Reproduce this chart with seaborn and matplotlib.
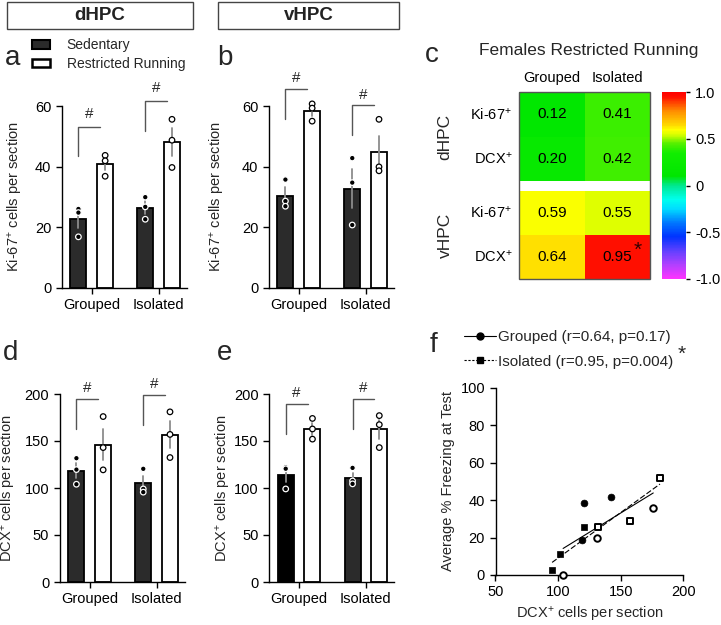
import numpy as np
import pandas as pd
import matplotlib.pyplot as plt
import seaborn as sns
from matplotlib.colors import LinearSegmentedColormap
from matplotlib.lines import Line2D
from matplotlib.patches import Patch, Rectangle

# ---- data ----
housing = ['Grouped', 'Isolated']
conditions = ['Sedentary', 'Restricted Running']

# per animal, order: Grouped-Sed, Grouped-RR, Isolated-Sed, Isolated-RR
ki67_dhpc = [[26.0, 24.8, 16.8], [43.7, 41.9, 36.8], [29.9, 26.7, 22.6], [55.6, 48.7, 39.7]]
ki67_vhpc = [[35.7, 28.6, 26.9], [60.7, 59.3, 55.0], [42.8, 34.7, 20.7], [55.6, 39.9, 38.6]]
dcx_dhpc = [[131.7, 119.6, 104.0], [176.0, 143.0, 119.3], [120.4, 99.0, 95.6], [181.0, 157.0, 132.4]]
dcx_vhpc = [[122.0, 120.5, 99.0], [174.0, 162.8, 152.0], [121.4, 107.5, 104.4], [177.0, 167.4, 143.0]]

# brackets: (housing index, top of bracket, bottom of left arm, y of '#')
brackets_a = [(0, 53.1, 43.4, 57.3), (1, 61.5, 51.9, 65.8)]
brackets_b = [(0, 65.5, 55.6, 69.4), (1, 60.2, 50.3, 63.6)]
brackets_d = [(0, 194.4, 162.4, 206.7), (1, 199.3, 167.0, 210.6)]
brackets_e = [(0, 189.0, 157.0, 201.0), (1, 194.7, 162.8, 206.7)]

# correlation heatmap
marker_rows = ['Ki-67$^{+}$', 'DCX$^{+}$']
corr_dhpc = [[0.12, 0.41], [0.20, 0.42]]
corr_vhpc = [[0.59, 0.55], [0.64, 0.95]]

# DCX vs freezing
grp_sed_dcx = [120.5, 142.3, 119.4]
grp_sed_frz = [38.4, 41.8, 18.6]
grp_rr_dcx = [104.0, 131.1, 176.0]
grp_rr_frz = [0.0, 20.0, 35.9]
iso_sed_dcx = [95.2, 101.3, 120.5]
iso_sed_frz = [2.7, 11.0, 25.5]
iso_rr_dcx = [132.2, 157.2, 181.4]
iso_rr_frz = [25.5, 28.8, 52.0]

bar_colors = {'Sedentary': '#2b2b2b', 'Restricted Running': 'white'}
point_colors = {'Sedentary': 'black', 'Restricted Running': 'white'}

sns.set_style('ticks')
plt.rcParams['font.family'] = ['Liberation Sans', 'DejaVu Sans']
plt.rcParams['mathtext.default'] = 'regular'
plt.rcParams['axes.edgecolor'] = 'black'
plt.rcParams['xtick.color'] = 'black'
plt.rcParams['ytick.color'] = 'black'
plt.rcParams['axes.linewidth'] = 1.0

W, H = 721, 625
fig = plt.figure(figsize=(W / 100, H / 100), dpi=100)


def px_axes(left, top, right, bottom):
    return fig.add_axes([left / W, 1 - bottom / H, (right - left) / W, (bottom - top) / H])


def long_form(values):
    rows = []
    keys = [(h, c) for h in housing for c in conditions]
    for (h, c), vals in zip(keys, values):
        for v in vals:
            rows.append({'housing': h, 'condition': c, 'cells': v})
    return pd.DataFrame(rows)


def bar_panel(ax, values, ymax, yticks, ylabel, brackets, label_x, black_first=False):
    df = long_form(values)
    sns.barplot(data=df, x='housing', y='cells', hue='condition', order=housing,
                hue_order=conditions, palette=bar_colors, saturation=1, errorbar='se',
                width=0.8, gap=0.4, edgecolor='black', linewidth=1.3,
                err_kws={'color': '0.55', 'linewidth': 1.3}, legend=False, ax=ax)
    sns.stripplot(data=df, x='housing', y='cells', hue='condition', order=housing,
                  hue_order=conditions, palette=point_colors, dodge=True, jitter=False,
                  size=4, linewidth=0.9, legend=False, zorder=3, ax=ax)
    for coll in ax.collections:
        fcs = coll.get_facecolors()
        coll.set_edgecolors(['black' if fc[0] > 0.5 else 'white' for fc in fcs])
        coll.set_clip_on(False)

    bars = sorted(ax.patches, key=lambda p: p.get_x())
    if black_first:
        bars[0].set_facecolor('black')
    centers = [p.get_x() + p.get_width() / 2 for p in bars]
    for idx, top, low, yhash in brackets:
        x0 = centers[2 * idx]
        x1 = x0 + 0.82 * (centers[2 * idx + 1] - x0)
        ax.plot([x0, x0, x1], [low, top, top], color='#555555', lw=1, clip_on=False)
        ax.text((x0 + x1) / 2, yhash, '#', ha='center', va='center', fontsize=11)

    ax.set_xlim(-0.45, 1.42)
    ax.set_ylim(0, ymax)
    ax.set_yticks(yticks)
    ax.set_xlabel('')
    ax.set_ylabel(ylabel, fontsize=10.5)
    ax.yaxis.set_label_coords(label_x, 0.5)
    ax.tick_params(length=4, width=1, labelsize=10.5)
    sns.despine(ax=ax)


ax_a = px_axes(61.7, 106, 186.7, 287.7)
bar_panel(ax_a, ki67_dhpc, 60, [0, 20, 40, 60], 'Ki-67$^{+}$ cells per section', brackets_a, -0.29)
ax_b = px_axes(268.7, 106, 393.7, 287.7)
bar_panel(ax_b, ki67_vhpc, 60, [0, 20, 40, 60], 'Ki-67$^{+}$ cells per section', brackets_b, -0.33)
ax_d = px_axes(59.7, 394, 184.7, 582)
bar_panel(ax_d, dcx_dhpc, 200, [0, 50, 100, 150, 200], 'DCX$^{+}$ cells per section', brackets_d, -0.33)
ax_e = px_axes(269, 394, 394, 582)
bar_panel(ax_e, dcx_vhpc, 200, [0, 50, 100, 150, 200], 'DCX$^{+}$ cells per section', brackets_e, -0.29,
          black_first=True)

ax_a.legend(handles=[Patch(facecolor='#2b2b2b', edgecolor='black', lw=1.5),
                     Patch(facecolor='white', edgecolor='black', lw=1.8)],
            labels=conditions, loc='upper left', bbox_to_anchor=(32 / W, 1 - 38 / H),
            bbox_transform=fig.transFigure, frameon=False, fontsize=10, handlelength=1.3,
            handleheight=0.6, handletextpad=1.2, labelspacing=0.35, borderpad=0, borderaxespad=0)

# header boxes
for x0, x1, name in [(7, 193, 'dHPC'), (218, 399, 'vHPC')]:
    fig.patches.append(Rectangle((x0 / W, 1 - 29 / H), (x1 - x0) / W, 27 / H,
                                 transform=fig.transFigure, fill=False, edgecolor='#444444', lw=1))
    fig.text((x0 + x1) / 2 / W, 1 - 15.5 / H, name, ha='center', va='center',
             fontsize=13.5, fontweight='bold', color='#222222')

# ---- panel c: heatmap ----
rainbow = LinearSegmentedColormap.from_list('prism_rainbow', [
    (0.0, '#ff33ff'), (0.075, '#b040ff'), (0.15, '#6040ff'), (0.225, '#0033ff'),
    (0.30, '#0077ff'), (0.375, '#00ddff'), (0.425, '#00ffee'), (0.5, '#00e890'),
    (0.55, '#00e600'), (0.675, '#11ee00'), (0.725, '#55f000'), (0.775, '#ddff00'),
    (0.80, '#ffff00'), (0.825, '#ffd800'), (0.90, '#ff8c00'), (0.975, '#ff1000'),
    (1.0, '#ff0000')])

ax_c1 = px_axes(519, 92, 650, 181)
ax_c2 = px_axes(519, 191, 650, 279)
cax = px_axes(662, 92, 686, 279)

sns.heatmap(pd.DataFrame(corr_dhpc, index=marker_rows, columns=housing), ax=ax_c1, cmap=rainbow,
            vmin=-1, vmax=1, annot=True, fmt='.2f', cbar=False,
            annot_kws={'size': 11, 'color': 'black'})
ax_c1.xaxis.tick_top()
ax_c1.tick_params(length=0, labelsize=10.5, pad=5)
ax_c1.set_yticklabels(ax_c1.get_yticklabels(), rotation=0)
ax_c1.set_xlabel('')
ax_c1.set_ylabel('')

vhpc_df = pd.DataFrame(corr_vhpc, index=marker_rows, columns=housing)
sns.heatmap(vhpc_df, ax=ax_c2, cmap=rainbow, vmin=-1, vmax=1, annot=True, fmt='.2f',
            cbar=True, cbar_ax=cax, xticklabels=False, annot_kws={'size': 11, 'color': 'black'})
ax_c2.tick_params(length=0, labelsize=10.5, pad=5)
ax_c2.set_yticklabels(ax_c2.get_yticklabels(), rotation=0)
ax_c2.set_ylabel('')
r, c = np.unravel_index(np.argmax(vhpc_df.values), vhpc_df.shape)
ax_c2.annotate('*', xy=(c + 0.5, r + 0.5), xytext=(15, 5), textcoords='offset points',
               ha='center', va='center', fontsize=15, color='#330000')

cbar = ax_c2.collections[0].colorbar
cbar.set_ticks([-1, -0.5, 0, 0.5, 1])
cbar.set_ticklabels(['-1.0', '-0.5', '0', '0.5', '1.0'])
cbar.outline.set_edgecolor('#555555')
cax.tick_params(labelsize=10.5, length=3, width=1)

fig.patches.append(Rectangle((519 / W, 1 - 279 / H), 131 / W, 187 / H, transform=fig.transFigure,
                             fill=False, edgecolor='#555555', lw=1))
fig.text(445 / W, 1 - 137 / H, 'dHPC', rotation=90, ha='center', va='center', fontsize=12.5)
fig.text(445 / W, 1 - 235 / H, 'vHPC', rotation=90, ha='center', va='center', fontsize=12.5)
fig.text(589 / W, 1 - 51 / H, 'Females Restricted Running', ha='center', va='center', fontsize=12.5)

# ---- panel f: scatter ----
ax_f = px_axes(495.5, 387.7, 683.3, 575)
grp = pd.DataFrame({'dcx': grp_sed_dcx + grp_rr_dcx, 'freezing': grp_sed_frz + grp_rr_frz})
iso = pd.DataFrame({'dcx': iso_sed_dcx + iso_rr_dcx, 'freezing': iso_sed_frz + iso_rr_frz})
sns.regplot(data=grp, x='dcx', y='freezing', scatter=False, ci=None, ax=ax_f,
            line_kws={'color': 'black', 'lw': 0.8, 'ls': '-'})
sns.regplot(data=iso, x='dcx', y='freezing', scatter=False, ci=None, ax=ax_f,
            line_kws={'color': 'black', 'lw': 0.8, 'ls': (0, (5, 2))})

for xs, ys, mk, filled in [(grp_sed_dcx, grp_sed_frz, 'o', True), (grp_rr_dcx, grp_rr_frz, 'o', False),
                           (iso_sed_dcx, iso_sed_frz, 's', True), (iso_rr_dcx, iso_rr_frz, 's', False)]:
    if filled:
        sns.scatterplot(x=xs, y=ys, marker=mk, color='black', edgecolor='black', s=24,
                        linewidth=0.5, ax=ax_f, zorder=3, clip_on=False)
    else:
        sns.scatterplot(x=xs, y=ys, marker=mk, color='white', edgecolor='black', s=22,
                        linewidth=1.4, ax=ax_f, zorder=3, clip_on=False)

ax_f.set_xlim(50, 200)
ax_f.set_ylim(0, 100)
ax_f.set_xticks([50, 100, 150, 200])
ax_f.set_yticks([0, 20, 40, 60, 80, 100])
ax_f.set_xlabel('DCX$^{+}$ cells per section', fontsize=10.5, labelpad=4)
ax_f.set_ylabel('Average % Freezing at Test', fontsize=10.5)
ax_f.yaxis.set_label_coords(-0.215, 0.5)
ax_f.tick_params(length=4, width=1, labelsize=10.5)
sns.despine(ax=ax_f)

ax_f.legend(handles=[Line2D([0], [0], color='black', lw=0.8, marker='o', markersize=5),
                     Line2D([0], [0], color='black', lw=0.8, ls=(0, (2, 1.5)), marker='s', markersize=5)],
            labels=['Grouped (r=0.64, p=0.17)', 'Isolated (r=0.95, p=0.004)'],
            loc='upper left', bbox_to_anchor=(464 / W, 1 - 330 / H), bbox_transform=fig.transFigure,
            frameon=False, fontsize=11, handlelength=2.1, handletextpad=0.15, labelspacing=0.7,
            borderpad=0, borderaxespad=0)
fig.text(678 / W, 1 - 354 / H, '*', ha='left', va='center', fontsize=15)

# panel letters
for letter, x, y in [('a', 5, 65), ('b', 217, 65), ('c', 425, 62),
                     ('d', 3, 360), ('e', 217, 360), ('f', 430, 352)]:
    fig.text(x / W, 1 - y / H, letter, fontsize=20, va='baseline', ha='left')

fig.savefig('out.png', dpi=100)
